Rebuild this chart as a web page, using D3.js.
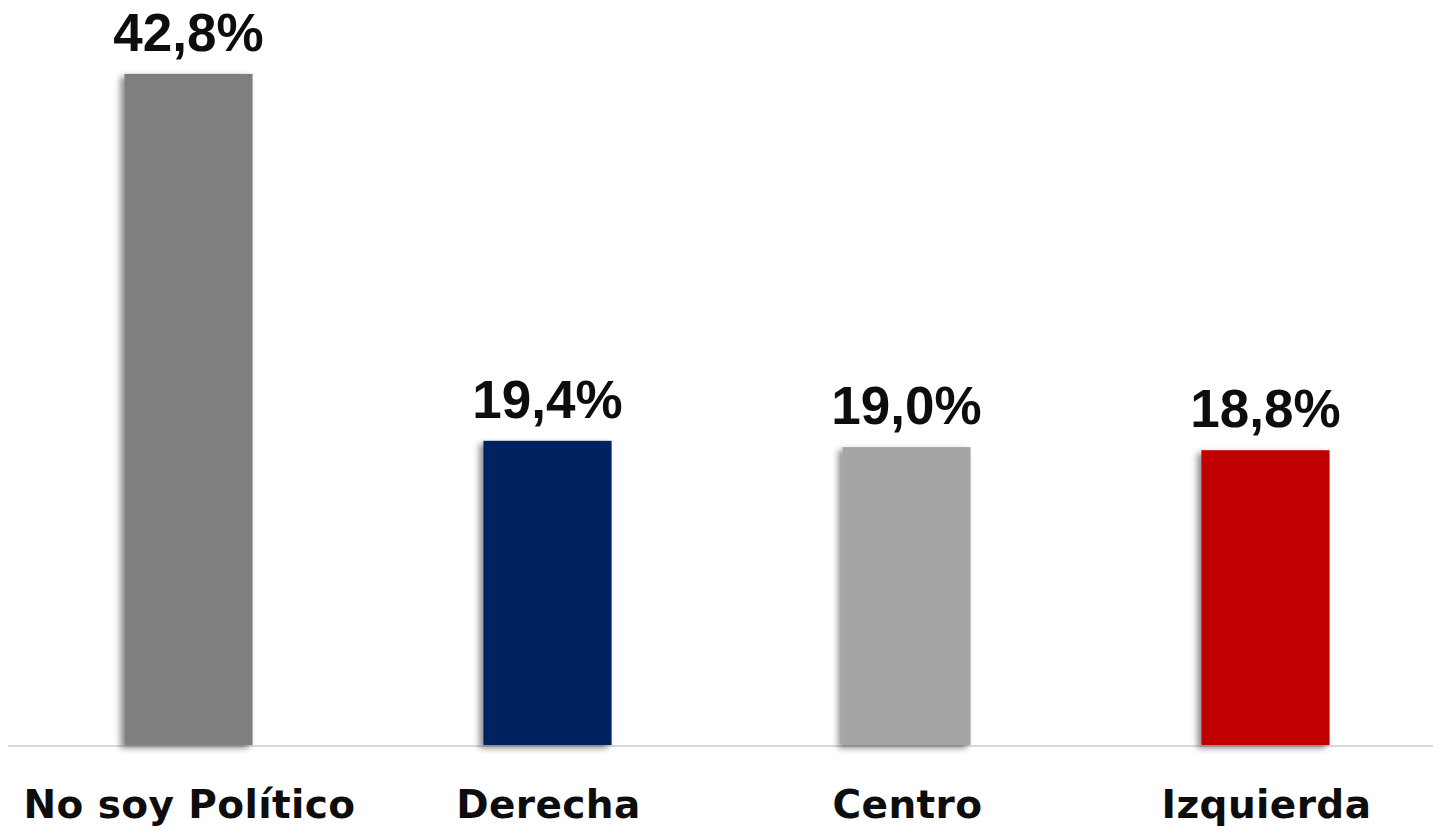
<!DOCTYPE html>
<html><head><meta charset="utf-8">
<script src="https://cdn.jsdelivr.net/npm/d3@7"></script>
<style>html,body{margin:0;padding:0;background:#fff;overflow:hidden}</style>
</head><body>
<script>
const categories = ["No soy Político", "Derecha", "Centro", "Izquierda"];
const values = [42.8, 19.4, 19.0, 18.8];
const valueLabels = ["42,8%", "19,4%", "19,0%", "18,8%"];
const colors = ["#7f7f7f", "#002060", "#a5a5a5", "#c00000"];

const W = 1433, H = 833;
const svg = d3.select("body").append("svg").attr("width", W).attr("height", H);

const defs = svg.append("defs");
const f = defs.append("filter").attr("id", "sh").attr("x", "-20%").attr("y", "-5%").attr("width", "140%").attr("height", "110%");
f.append("feDropShadow").attr("dx", -4).attr("dy", 3).attr("stdDeviation", 3).attr("flood-color", "#000").attr("flood-opacity", 0.45);

const x = d3.scaleBand().domain(categories).range([9, 1445]).paddingInner(0.643).paddingOuter(0.3215);
const y = d3.scaleLinear().domain([0, 45]).range([745, 39.4]);

svg.append("line").attr("x1", 8).attr("x2", W).attr("y1", y(0) + 1).attr("y2", y(0) + 1)
  .attr("stroke", "#d9d9d9").attr("stroke-width", 2);

svg.selectAll("rect.bar").data(values).join("rect").attr("class", "bar")
  .attr("x", (d, i) => x(categories[i]))
  .attr("width", x.bandwidth())
  .attr("y", d => y(d))
  .attr("height", d => y(0) - y(d))
  .attr("fill", (d, i) => colors[i])
  .attr("filter", "url(#sh)");

svg.selectAll("text.val").data(values).join("text").attr("class", "val")
  .attr("x", (d, i) => x(categories[i]) + x.bandwidth() / 2)
  .attr("y", d => y(d) - 23)
  .attr("text-anchor", "middle")
  .attr("font-family", "Liberation Sans, Arial, sans-serif").attr("font-weight", "bold")
  .attr("font-size", 53).attr("fill", "#0d0d0d")
  .text((d, i) => valueLabels[i]);

svg.selectAll("text.cat").data(categories).join("text").attr("class", "cat")
  .attr("x", d => x(d) + x.bandwidth() / 2 + 1)
  .attr("y", 818)
  .attr("text-anchor", "middle")
  .attr("font-family", "DejaVu Sans, sans-serif").attr("font-weight", "bold")
  .attr("font-size", 39).attr("letter-spacing", 0.4).attr("fill", "#0d0d0d")
  .text(d => d);
</script>
</body></html>
